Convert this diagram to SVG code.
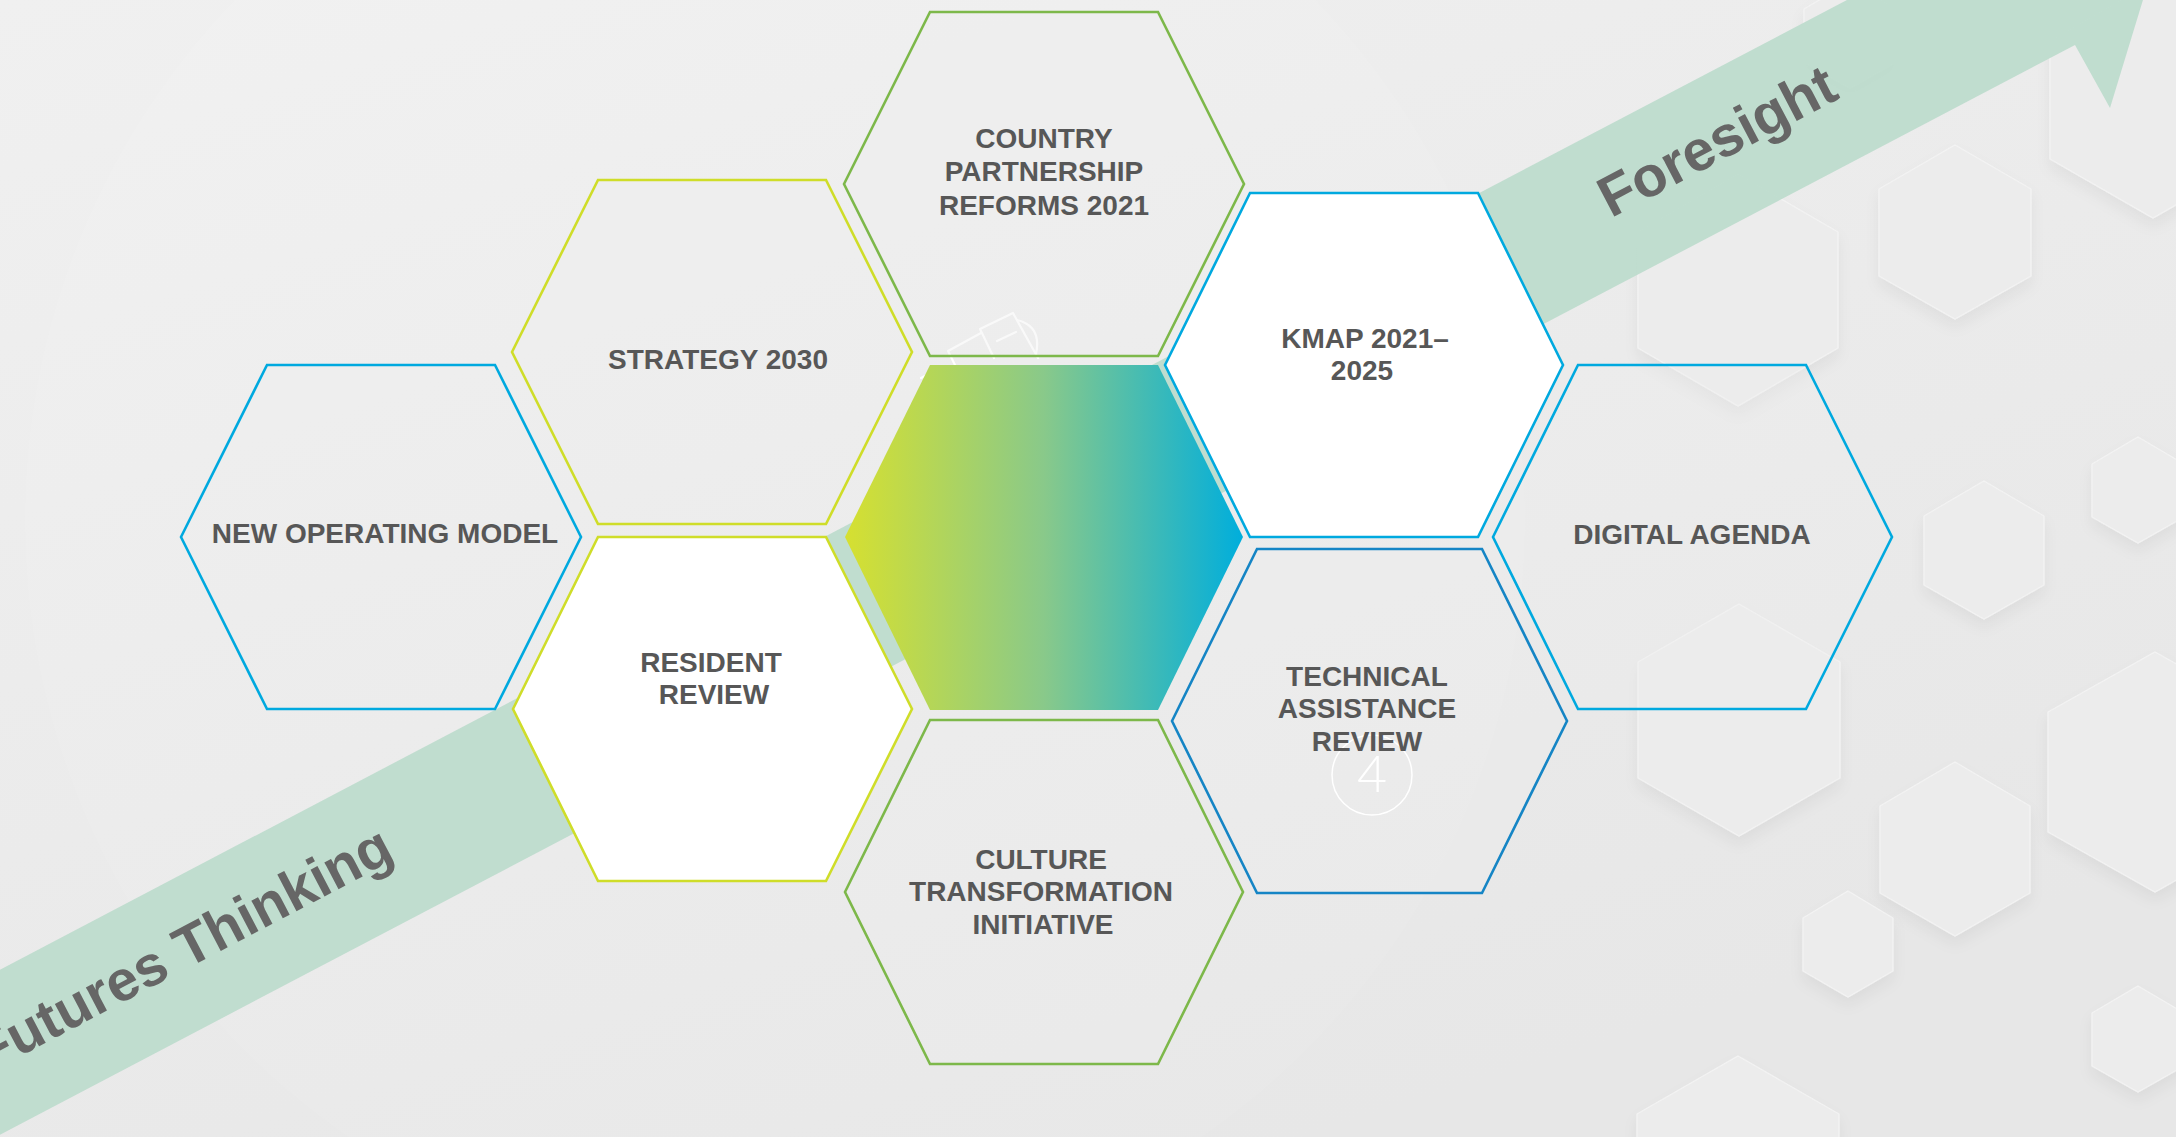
<svg xmlns="http://www.w3.org/2000/svg" width="2176" height="1137" viewBox="0 0 2176 1137">
  <defs>
    <linearGradient id="bg" x1="0" y1="0" x2="0.6" y2="1">
      <stop offset="0" stop-color="#f0f0f0"/>
      <stop offset="1" stop-color="#e7e7e7"/>
    </linearGradient>
    <linearGradient id="core" gradientUnits="userSpaceOnUse" x1="845" y1="0" x2="1243" y2="0">
      <stop offset="0" stop-color="#d6e030"/>
      <stop offset="0.5" stop-color="#89c98a"/>
      <stop offset="1" stop-color="#00aedc"/>
    </linearGradient>
    <filter id="emboss" x="-30%" y="-30%" width="160%" height="170%">
      <feDropShadow dx="0" dy="8" stdDeviation="7" flood-color="#000000" flood-opacity="0.05"/>
    </filter>
    <style>
      .bgh { fill: #ececec; stroke: #f3f3f3; stroke-width: 1.2; filter: url(#emboss); }
      .hex { stroke-width: 2.6; stroke-linejoin: miter; }
      .gray { fill: #ededed; fill-opacity: 0.35; }
      .white { fill: #ffffff; }
      .blue { stroke: #00a9df; }
      .dblue { stroke: #1585c5; }
      .green { stroke: #7db84a; }
      .yellow { stroke: #cfdd29; }
      .lbl { font-family: "Liberation Sans", Arial, sans-serif; font-weight: bold; font-size: 28px; fill: #575757; text-anchor: middle; }
      .band-text { font-family: "Liberation Sans", Arial, sans-serif; font-weight: bold; font-size: 57px; fill: #666666; text-anchor: middle; }
      .icon { fill: none; stroke: #ffffff; stroke-width: 2.2; stroke-linecap: round; stroke-linejoin: round; }
    </style>
  </defs>

  <!-- background -->
  <rect x="0" y="0" width="2176" height="1137" fill="url(#bg)"/>
  <circle cx="775" cy="520" r="750" fill="#ffffff" fill-opacity="0.08"/>

  <!-- decorative embossed hexagons -->
  <g id="bg-hexes">
    <polygon class="bgh" points="1738,174 1838,232 1838,348 1738,406 1638,348 1638,232"/>
    <polygon class="bgh" points="1850,-18 1896,9 1896,62 1850,88 1804,62 1804,9"/>
    <polygon class="bgh" points="1955,145 2031,189 2031,276 1955,319 1879,276 1879,189"/>
    <polygon class="bgh" points="2153,-18 2256,41 2256,159 2153,218 2050,159 2050,41"/>
    <polygon class="bgh" points="1984,481 2044,516 2044,585 1984,619 1924,585 1924,516"/>
    <polygon class="bgh" points="2138,437 2184,464 2184,517 2138,543 2092,517 2092,464"/>
    <polygon class="bgh" points="1739,604 1840,662 1840,778 1739,836 1638,778 1638,662"/>
    <polygon class="bgh" points="2155,652 2262,712 2262,832 2155,892 2048,832 2048,712"/>
    <polygon class="bgh" points="1955,762 2030,806 2030,893 1955,936 1880,893 1880,806"/>
    <polygon class="bgh" points="1848,891 1893,918 1893,971 1848,997 1803,971 1803,918"/>
    <polygon class="bgh" points="2138,986 2184,1013 2184,1066 2138,1092 2092,1066 2092,1013"/>
    <polygon class="bgh" points="1738,1056 1839,1114 1839,1230 1738,1288 1637,1230 1637,1114"/>
  </g>

  <!-- arrow band -->
  <g id="connectors">
    <polygon id="arrow" points="-10,975 1866,-10 2146,-10 2110,108 2075,45 -10,1140" fill="#bcdccc" fill-opacity="0.93"/>
  </g>

  <!-- faint icon behind centre -->
  <g id="icon-trace">
    <path class="icon" d="M948,351 L981,333 M948,351 L956,367"/>
    <path class="icon" d="M980,329 L1013,313 L1038,358 M980,329 L994,358"/>
    <path class="icon" d="M997,341 L1016,332"/>
    <path class="icon" d="M1017,320 Q1042,326 1036,354"/>
    <path class="icon" d="M921,378 L931,373"/>
  </g>

  <!-- hexagon nodes -->
  <g id="node-country">
    <polygon class="hex gray green" points="844,184 930,12 1158,12 1244,184 1158,356 930,356"/>
    <text class="lbl" x="1044" y="148">COUNTRY</text>
    <text class="lbl" x="1044" y="181">PARTNERSHIP</text>
    <text class="lbl" x="1044" y="215">REFORMS 2021</text>
  </g>

  <g id="node-core">
    <polygon points="845,537 930,365 1158,365 1243,537 1158,710 930,710" fill="url(#core)"/>
  </g>

  <g id="node-kmap">
    <polygon class="hex white blue" points="1165,365 1250,193 1478,193 1563,365 1478,537 1250,537"/>
    <text class="lbl" x="1365" y="348">KMAP 2021–</text>
    <text class="lbl" x="1362" y="380">2025</text>
  </g>

  <g id="node-technical">
    <polygon class="hex gray dblue" points="1172,721 1257,549 1482,549 1567,721 1482,893 1257,893"/>
    <circle cx="1372" cy="775" r="40" fill="none" stroke="#ffffff" stroke-width="1.5"/>
    <text x="1372" y="792" font-family="Lato, 'Open Sans', sans-serif" font-weight="300" font-size="52" fill="#ffffff" text-anchor="middle">4</text>
    <text class="lbl" x="1367" y="686">TECHNICAL</text>
    <text class="lbl" x="1367" y="718">ASSISTANCE</text>
    <text class="lbl" x="1367" y="751">REVIEW</text>
  </g>

  <g id="node-digital">
    <polygon class="hex gray blue" points="1493,537 1578,365 1806,365 1892,537 1806,709 1578,709"/>
    <text class="lbl" x="1692" y="544">DIGITAL AGENDA</text>
  </g>

  <g id="node-strategy">
    <polygon class="hex gray yellow" points="512,352 598,180 826,180 912,352 826,524 598,524"/>
    <text class="lbl" x="718" y="369">STRATEGY 2030</text>
  </g>

  <g id="node-operating">
    <polygon class="hex gray blue" points="181,537 267,365 495,365 581,537 495,709 267,709"/>
    <text class="lbl" x="385" y="543">NEW OPERATING MODEL</text>
  </g>

  <g id="node-resident">
    <polygon class="hex white yellow" points="513,709 598,537 826,537 912,709 826,881 598,881"/>
    <text class="lbl" x="711" y="672">RESIDENT</text>
    <text class="lbl" x="714" y="704">REVIEW</text>
  </g>

  <g id="node-culture">
    <polygon class="hex gray green" points="845,892 930,720 1158,720 1243,892 1158,1064 930,1064"/>
    <text class="lbl" x="1041" y="869">CULTURE</text>
    <text class="lbl" x="1041" y="901">TRANSFORMATION</text>
    <text class="lbl" x="1043" y="934">INITIATIVE</text>
  </g>

  <!-- band labels -->
  <g id="band-labels">
    <text class="band-text" x="192" y="966" transform="rotate(-27.7 192 966)">Futures Thinking</text>
    <text class="band-text" x="1726" y="158" transform="rotate(-27.7 1726 158)">Foresight</text>
  </g>
</svg>
